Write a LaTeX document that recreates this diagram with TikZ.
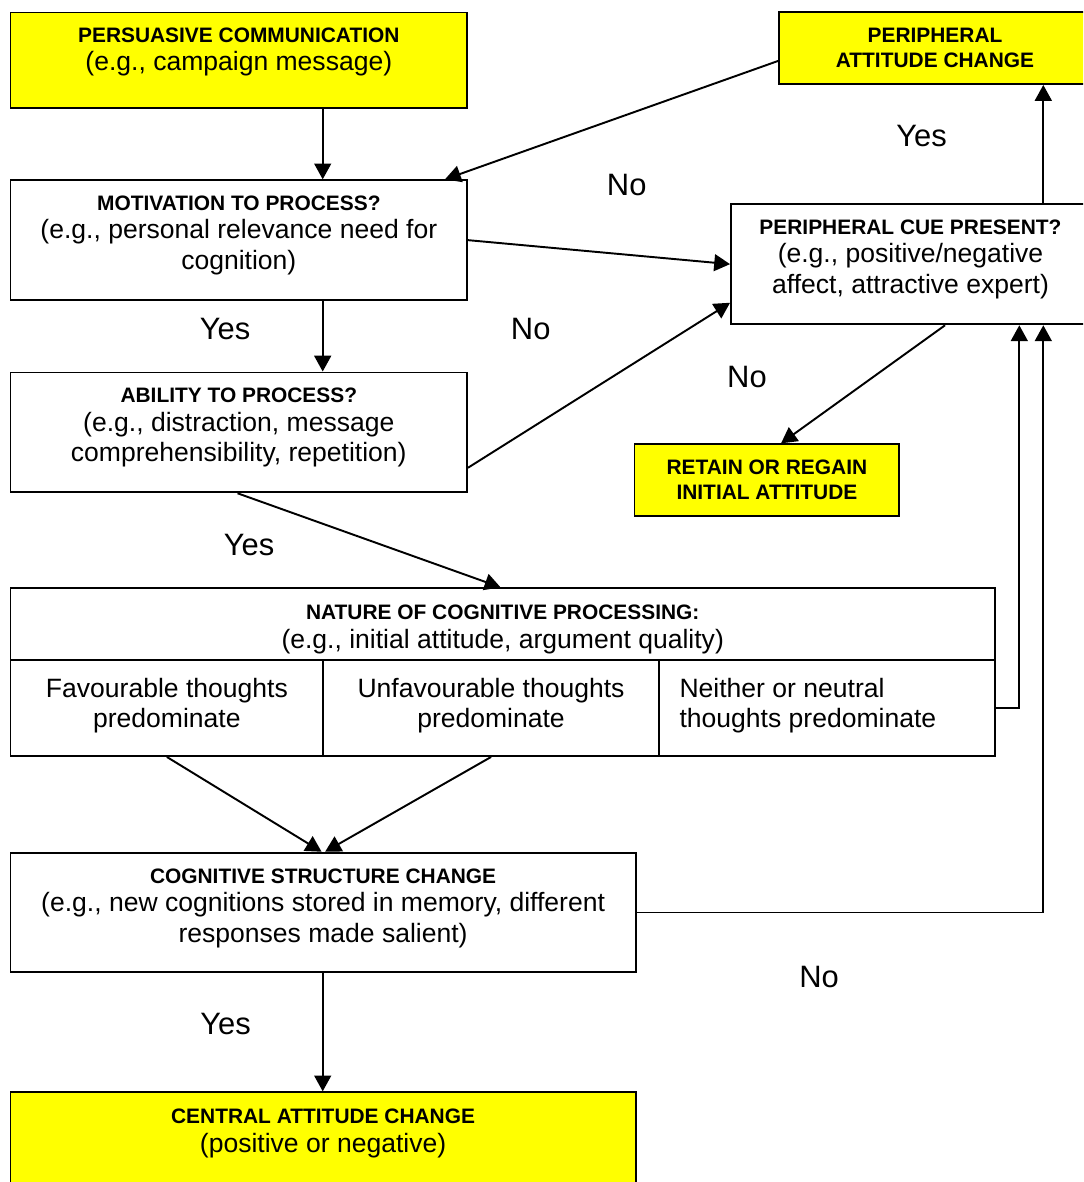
\documentclass[tikz,border=0pt]{standalone}
\usepackage{fontspec}
\setmainfont{Liberation Sans}
\usetikzlibrary{arrows.meta,calc,fit}

% type sizes used in the flow chart
\newcommand\hdfont{\bfseries\fontsize{11.9}{13.7}\selectfont}
\newcommand\bodyfont{\fontsize{15.1}{17.4}\selectfont}
\newcommand\lblfont{\fontsize{17.6}{20}\selectfont}

\definecolor{boxyellow}{RGB}{255,255,0}

\begin{document}
\begin{tikzpicture}[
  x=0.02cm, y=-0.02cm,
  box/.style={draw, line width=1.1pt, inner sep=0pt},
  yel/.style={box, fill=boxyellow},
  txt/.style={inner sep=0pt, align=center, font=\bodyfont, anchor=north},
  hdtxt/.style={txt, font=\hdfont},
  lbl/.style={inner sep=0pt, font=\lblfont},
  arr/.style={line width=1.1pt, -{Triangle[length=9pt, width=9.6pt]}},
]
\useasboundingbox (0,0) rectangle (1083,1182);
\clip (0,0) rectangle (1083,1182);

% rails for the vertical connectors
\coordinate (axis)  at (322.7,0);
\coordinate (rail1) at (1019.3,0);
\coordinate (rail2) at (1043.3,0);

% boxes
\node[yel, fit={(10.5,12.5) (467,108)}]      (persuade) {};
\node[box, fit={(10.5,180.3) (467,300)}]     (motiv) {};
\node[box, fit={(10.5,372.5) (467,492.3)}]   (ability) {};
\node[box, fit={(10.5,588.3) (995,660)}]     (header) {};
\node[box, fit={(10.5,660) (323.3,756)}]     (fav) {};
\node[box, fit={(323.3,660) (658.8,756)}]    (unfav) {};
\node[box, fit={(658.8,660) (995,756)}]      (neither) {};
\node[box, fit={(10.5,852.7) (635.7,972.3)}] (cog) {};
\node[yel, fit={(10.5,1092.3) (635.7,1195)}] (central) {};
\node[yel, fit={(779,12) (1092,84)}]         (periph) {};
\node[box, fit={(731,204) (1090,324.3)}]     (cue) {};
\node[yel, fit={(634.5,444.3) (899.3,516)}]  (retain) {};

% box texts
\node[txt] (persuadeT) at (238.8,27.4)
  {{\hdfont PERSUASIVE COMMUNICATION}\\[-1.1pt](e.g., campaign message)};
\node[txt] (motivT) at (238.8,195.4)
  {{\hdfont MOTIVATION TO PROCESS?}\\[-1.1pt](e.g., personal relevance need for\\cognition)};
\node[txt] (abilityT) at (238.8,387.6)
  {{\hdfont ABILITY TO PROCESS?}\\[-1.1pt](e.g., distraction, message\\comprehensibility, repetition)};
\node[txt] (headerT) at (502.7,604.6)
  {{\hdfont NATURE OF COGNITIVE PROCESSING:}\\[-1.1pt](e.g., initial attitude, argument quality)};
\node[txt] (favT) at (166.9,677.6) {Favourable thoughts\\predominate};
\node[txt] (unfavT) at (491,677.6) {Unfavourable thoughts\\predominate};
\node[txt, align=left, anchor=north west] (neitherT) at (679.2,677.6)
  {Neither or neutral\\thoughts predominate};
\node[txt] (cogT) at (323.1,868.4)
  {{\hdfont COGNITIVE STRUCTURE CHANGE}\\[-1.1pt](e.g., new cognitions stored in memory, different\\responses made salient)};
\node[txt] (centralT) at (323.1,1108.4)
  {{\hdfont CENTRAL ATTITUDE CHANGE}\\[-1.1pt](positive or negative)};
\node[hdtxt] (periphT) at (935,28) {PERIPHERAL\\[0.5pt]ATTITUDE CHANGE};
\node[txt] (cueT) at (910.5,219.4)
  {{\hdfont PERIPHERAL CUE PRESENT?}\\[-1.1pt](e.g., positive/negative\\affect, attractive expert)};
\node[hdtxt] (retainT) at (766.9,460) {RETAIN OR REGAIN\\INITIAL ATTITUDE};

% connectors
\draw[arr] (persuade.south -| axis) -- (motiv.north -| axis);
\draw[arr] (motiv.south -| axis) -- (ability.north -| axis);
\draw[arr] ($(ability.south west)+(228,0)$) -- ($(header.north west)+(491,0)$);
\draw[arr] (motiv.east) -- (cue.west);
\draw[arr] ($(ability.south east)+(0,-25.5)$) -- ($(cue.south west)+(0,-22.5)$);
\draw[arr] ($(periph.south west)+(0,-24)$) -- ($(motiv.north east)+(-23,0)$);
\draw[arr] (cue.north -| rail2) -- (periph.south -| rail2);
\draw[arr] ($(cue.south west)+(215,0)$) -- ($(retain.north west)+(147.5,0)$);
\draw[arr] (neither.east) -| (cue.south -| rail1);
\draw[arr] (cog.east) -| (cue.south -| rail2);
\draw[arr] (fav.south) -- ($(cog.north)+(-1.5,0)$);
\draw[arr] (unfav.south) -- ($(cog.north)+(2,0)$);
\draw[arr] (cog.south -| axis) -- (central.north -| axis);

% branch labels
\node[lbl] (yes1) at (921.5,135.8) {Yes};
\node[lbl] (no1)  at (626.7,185)   {No};
\node[lbl] (yes2) at (225,329)     {Yes};
\node[lbl] (no2)  at (530.7,329)   {No};
\node[lbl] (no3)  at (747,377)     {No};
\node[lbl] (yes3) at (249,544.7)   {Yes};
\node[lbl] (no4)  at (819,976.7)   {No};
\node[lbl] (yes4) at (225.6,1024)  {Yes};
\end{tikzpicture}
\end{document}
